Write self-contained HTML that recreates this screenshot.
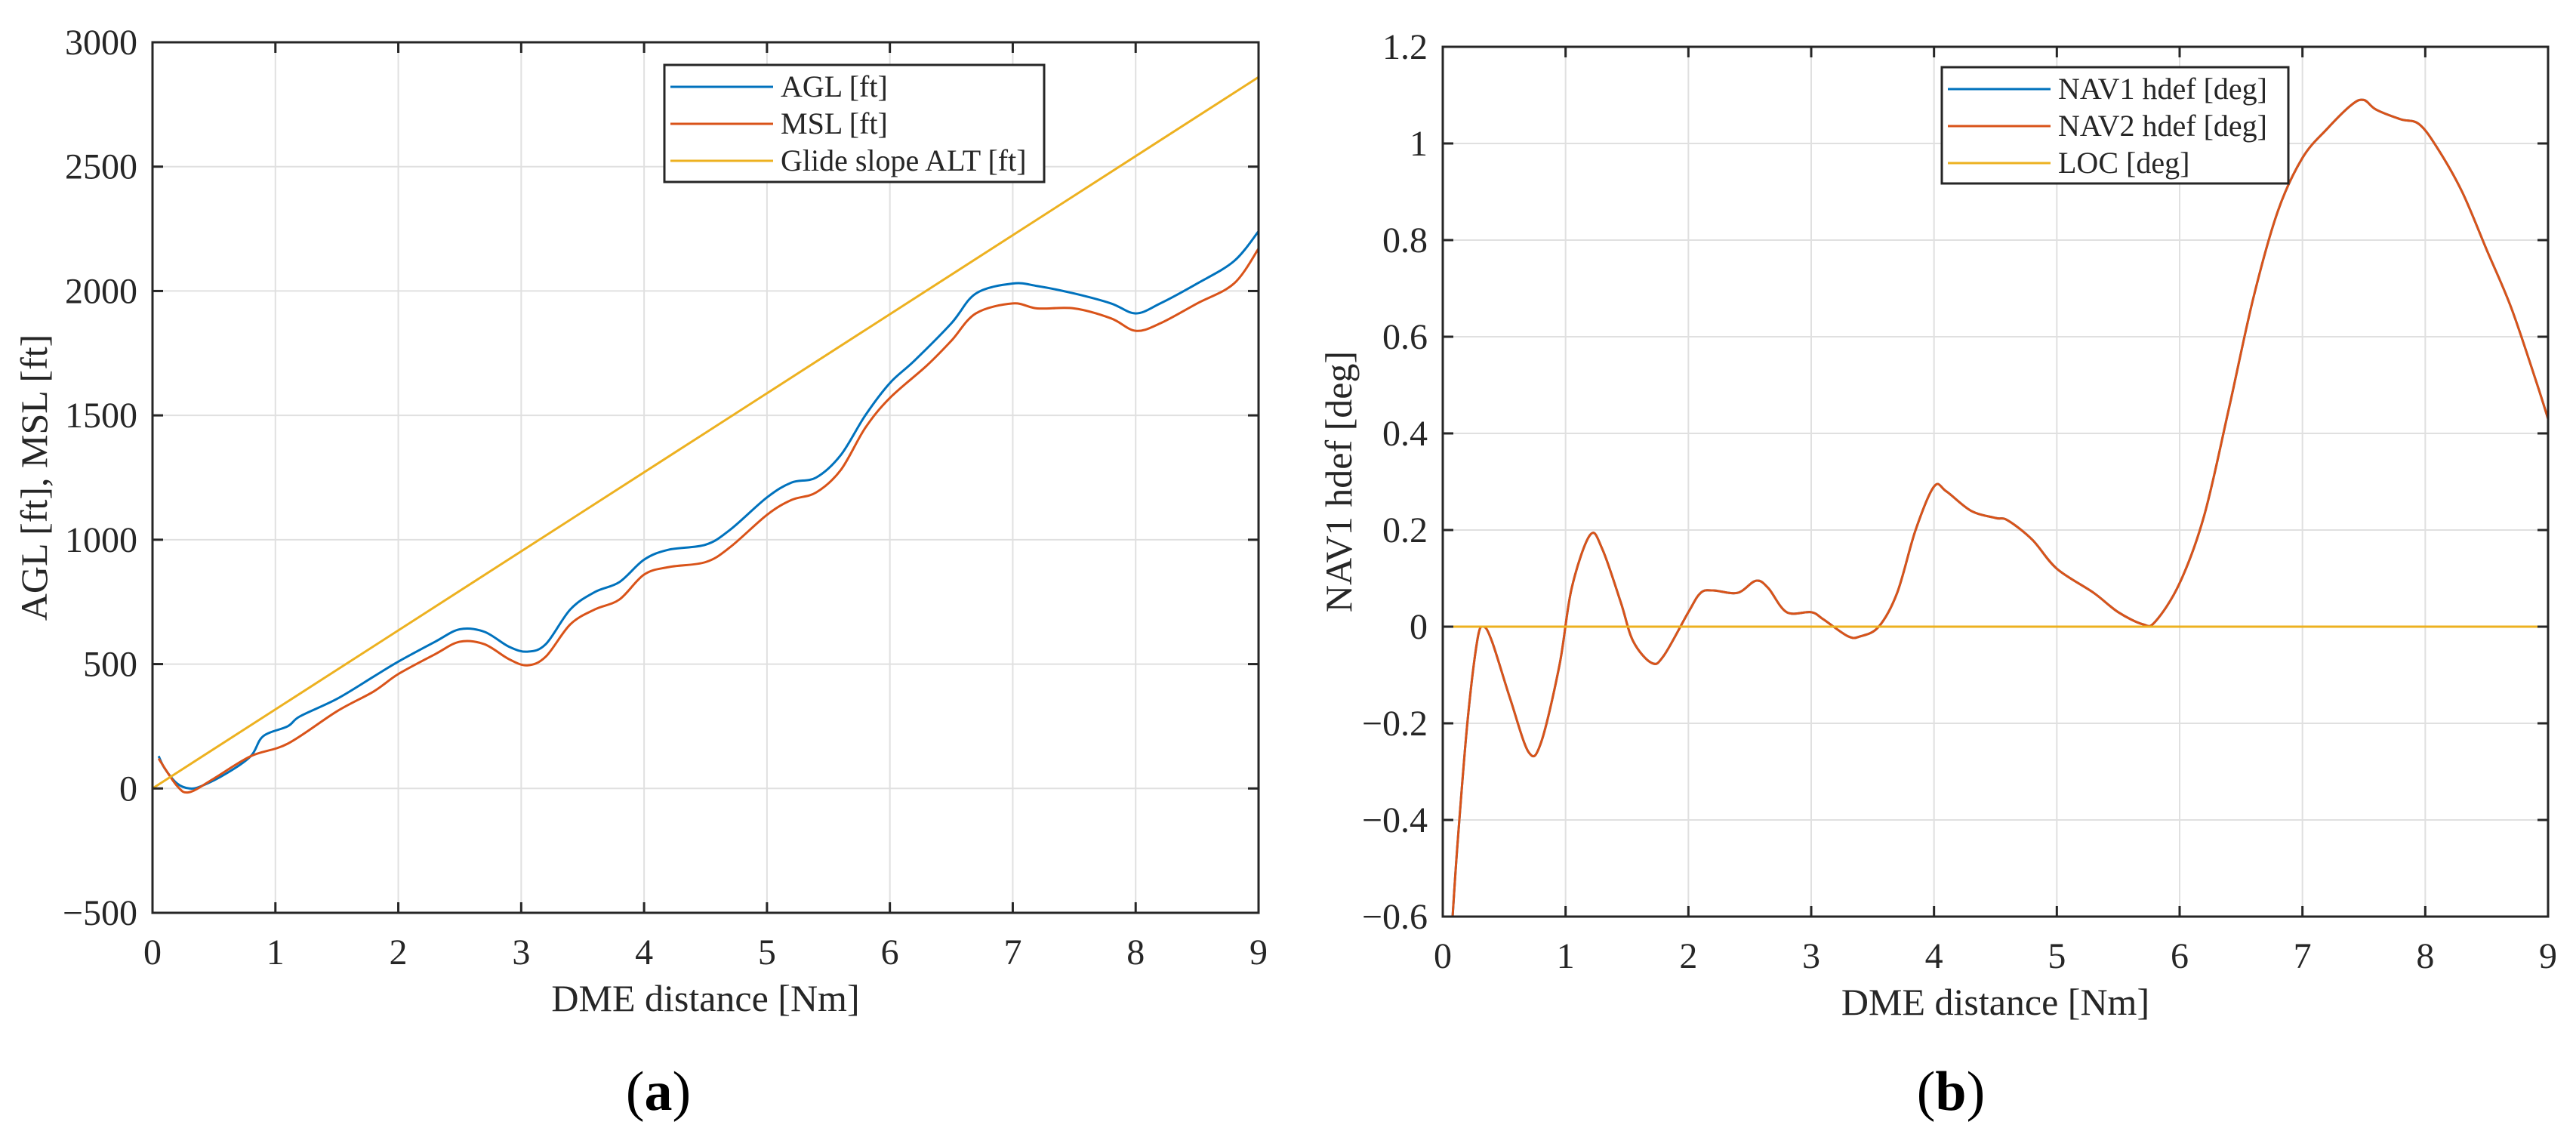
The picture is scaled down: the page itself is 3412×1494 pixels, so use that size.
<!DOCTYPE html>
<html><head><meta charset="utf-8"><style>
body{margin:0;background:#fff}
svg{display:block;font-family:"Liberation Serif",serif}
</style></head><body>
<svg id="fig" width="3412" height="1494" viewBox="0 0 3412 1494" xmlns="http://www.w3.org/2000/svg">
<g id="pa"></g>
<g id="pb"></g>
<text x="872" y="1470" font-size="74" text-anchor="middle">(<tspan font-weight="bold">a</tspan>)</text>
<text x="2584" y="1470" font-size="74" text-anchor="middle">(<tspan font-weight="bold">b</tspan>)</text>
</svg>
<script>
const xTicks=[0,1,2,3,4,5,6,7,8,9];
const aYTicks=[-500,0,500,1000,1500,2000,2500,3000];
const aglX=[0.05,0.1,0.2,0.3,0.4,0.6,0.8,0.9,1.1,1.2,1.5,1.8,2,2.3,2.5,2.7,2.9,3.05,3.2,3.4,3.6,3.8,4,4.2,4.5,4.7,5,5.2,5.4,5.6,5.8,6,6.2,6.5,6.7,7,7.2,7.5,7.8,8,8.2,8.5,8.8,9];
const aglY=[130,80,20,0,10,60,130,210,250,290,360,450,510,590,640,630,570,550,580,720,790,830,920,960,980,1040,1170,1230,1250,1340,1500,1630,1720,1870,1990,2030,2020,1990,1950,1910,1950,2030,2120,2240];
const mslX=[0.05,0.2,0.3,0.5,0.8,1.1,1.5,1.8,2,2.3,2.5,2.7,2.9,3.05,3.2,3.4,3.6,3.8,4,4.2,4.5,4.7,5,5.2,5.4,5.6,5.8,6,6.3,6.5,6.7,7,7.2,7.5,7.8,8,8.2,8.5,8.8,9];
const mslY=[120,10,-15,40,130,180,310,390,460,540,590,580,520,495,530,660,720,760,860,890,910,970,1100,1160,1190,1280,1450,1570,1700,1800,1910,1950,1930,1930,1890,1840,1870,1950,2030,2170];
const glideX=[0,9];
const glideY=[0,2860];
const bYTicks=[-0.6,-0.4,-0.2,0,0.2,0.4,0.6,0.8,1,1.2];
const bYLabels=["\u22120.6","\u22120.4","\u22120.2","0","0.2","0.4","0.6","0.8","1","1.2"];
const navX=[0.08,0.12,0.2,0.28,0.33,0.4,0.55,0.7,0.8,0.95,1.05,1.2,1.3,1.45,1.55,1.7,1.8,2.0,2.1,2.2,2.4,2.55,2.65,2.8,3.0,3.1,3.3,3.4,3.55,3.7,3.85,4.0,4.1,4.3,4.5,4.6,4.8,5.0,5.3,5.5,5.7,5.8,6.0,6.2,6.4,6.6,6.8,7.0,7.2,7.4,7.5,7.6,7.8,7.95,8.1,8.3,8.5,8.7,8.9,9.0];
const navY=[-0.6,-0.45,-0.2,-0.03,0,-0.03,-0.15,-0.26,-0.24,-0.08,0.08,0.19,0.16,0.05,-0.03,-0.075,-0.06,0.03,0.07,0.075,0.07,0.095,0.08,0.03,0.03,0.015,-0.02,-0.02,0,0.07,0.2,0.29,0.28,0.24,0.225,0.22,0.18,0.12,0.07,0.03,0.005,0.01,0.09,0.23,0.45,0.68,0.86,0.97,1.03,1.08,1.09,1.07,1.05,1.04,0.99,0.9,0.78,0.66,0.51,0.43];
const locX=[0,9];
const locY=[0,0];
const C={blue:"#0072BD",orange:"#D95319",yellow:"#EDB120"};
const NS="http://www.w3.org/2000/svg";
function mk(p,t,a){const e=document.createElementNS(NS,t);for(const k in a)e.setAttribute(k,a[k]);p.appendChild(e);return e;}
function smooth(pts){let d="M"+pts[0][0]+","+pts[0][1];for(let i=0;i<pts.length-1;i++){const p0=pts[Math.max(0,i-1)],p1=pts[i],p2=pts[i+1],p3=pts[Math.min(pts.length-1,i+2)];const c1=[p1[0]+(p2[0]-p0[0])/6,p1[1]+(p2[1]-p0[1])/6],c2=[p2[0]-(p3[0]-p1[0])/6,p2[1]-(p3[1]-p1[1])/6];d+=" C"+c1+" "+c2+" "+p2;}return d;}
function chart(g,L,R,T,B,ymin,ymax,yt,ylab,ytitle,ytx,series,leg){
  const sx=v=>L+(v-0)/9*(R-L), sy=v=>B-(v-ymin)/(ymax-ymin)*(B-T);
  const grid=mk(g,"g",{});
  
  
  xTicks.forEach(v=>{if(v>0&&v<9)mk(grid,"line",{x1:sx(v),x2:sx(v),y1:T,y2:B,stroke:"#e0e0e0","stroke-width":2});});
  yt.forEach(v=>{if(v>ymin&&v<ymax)mk(grid,"line",{x1:L,x2:R,y1:sy(v),y2:sy(v),stroke:"#e0e0e0","stroke-width":2});});
  const sg=mk(g,"g",{});
  
  
  series.forEach(s=>{const pts=s.x.map((v,i)=>[sx(v),sy(s.y[i])]);const p=mk(sg,"path",{d:smooth(pts),fill:"none",stroke:s.c,"stroke-width":3});
    
    });
  const ax=mk(g,"rect",{x:L,y:T,width:R-L,height:B-T,fill:"none",stroke:"#262626","stroke-width":3});
  
  
  xTicks.forEach(v=>{mk(g,"line",{x1:sx(v),x2:sx(v),y1:B,y2:B-14,stroke:"#262626","stroke-width":3});mk(g,"line",{x1:sx(v),x2:sx(v),y1:T,y2:T+14,stroke:"#262626","stroke-width":3});
    const t=mk(g,"text",{x:sx(v),y:B+68,"font-size":48,"text-anchor":"middle",fill:"#262626"});t.textContent=v;
    
    });
  yt.forEach((v,i)=>{mk(g,"line",{x1:L,x2:L+14,y1:sy(v),y2:sy(v),stroke:"#262626","stroke-width":3});mk(g,"line",{x1:R,x2:R-14,y1:sy(v),y2:sy(v),stroke:"#262626","stroke-width":3});
    const t=mk(g,"text",{x:L-20,y:sy(v)+16,"font-size":48,"text-anchor":"end",fill:"#262626"});t.textContent=ylab[i];
    
    });
  const xt=mk(g,"text",{x:(L+R)/2,y:B+130,"font-size":50,"text-anchor":"middle",fill:"#262626"});xt.textContent="DME distance [Nm]";
  
  
  const yy=(T+B)/2;const ytt=mk(g,"text",{x:ytx,y:yy,"font-size":50,"text-anchor":"middle",fill:"#262626",transform:`rotate(-90 ${ytx} ${yy})`});ytt.textContent=ytitle;
  
  
  const lg=mk(g,"g",{});
  
  
  mk(lg,"rect",{x:leg.x,y:leg.y,width:leg.w,height:leg.h,fill:"#fff",stroke:"#262626","stroke-width":3});
  series.forEach((s,i)=>{const yy=leg.y+29+i*49;mk(lg,"line",{x1:leg.x+8,x2:leg.x+144,y1:yy,y2:yy,stroke:s.c,"stroke-width":3});
    const t=mk(lg,"text",{x:leg.x+154,y:yy+13,"font-size":40,fill:"#262626"});t.textContent=s.label;
    
    });
}
chart(document.getElementById("pa"),202,1667,56,1209,-500,3000,aYTicks,aYTicks.map(v=>v<0?"\u2212"+(-v):String(v)),"AGL [ft], MSL [ft]",62,
 [{x:aglX,y:aglY,c:C.blue,label:"AGL [ft]",name:"agl-line"},{x:mslX,y:mslY,c:C.orange,label:"MSL [ft]",name:"msl-line"},{x:glideX,y:glideY,c:C.yellow,label:"Glide slope ALT [ft]",name:"glide-slope-line"}],
 {x:880,y:86,w:503,h:155});
chart(document.getElementById("pb"),1911,3375,62,1214,-0.6,1.2,bYTicks,bYLabels,"NAV1 hdef [deg]",1790,
 [{x:navX,y:navY,c:C.blue,label:"NAV1 hdef [deg]",name:"nav1-line"},{x:navX,y:navY,c:C.orange,label:"NAV2 hdef [deg]",name:"nav2-line"},{x:locX,y:locY,c:C.yellow,label:"LOC [deg]",name:"loc-line"}],
 {x:2572,y:89,w:459,h:154});
</script>
</body></html>
